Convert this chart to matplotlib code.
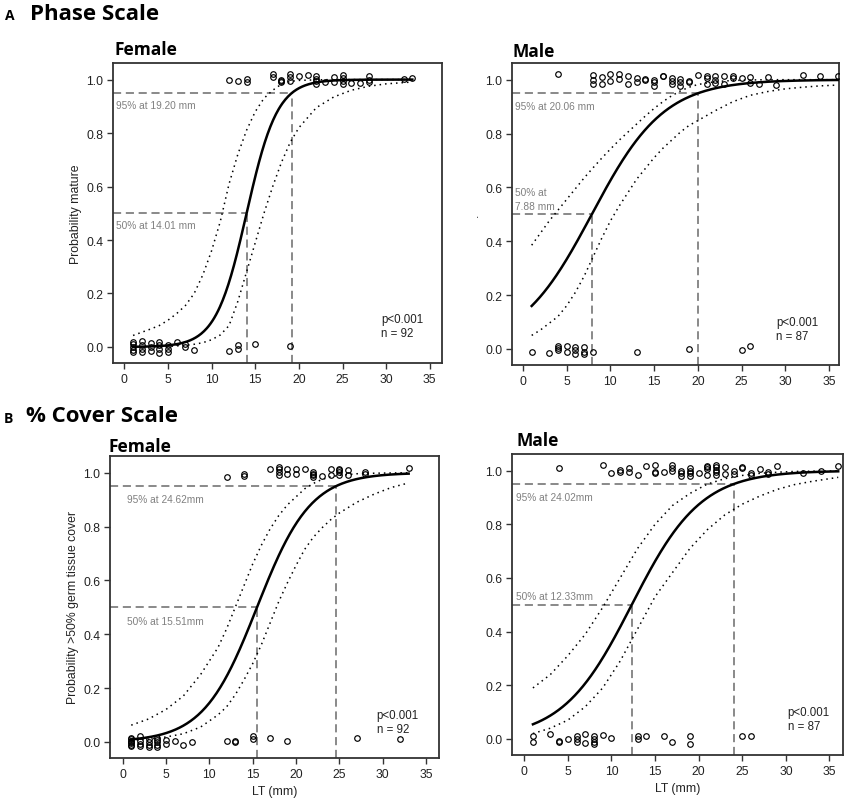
import matplotlib.pyplot as plt
import numpy as np

plt.rcParams['font.family'] = ['Liberation Sans', 'DejaVu Sans']

#
# observed maturity (0 / 1, jittered) read off the figure
#
tl_x = [1,1,1,1,1, 2,2,2,2, 3,3,3, 4,4,4,4, 5,5,5, 6, 7,7, 8, 12, 13,13, 15, 19,
        12, 13, 14,14, 17,17, 18,18,18, 19,19,19, 20, 21, 22,22,22,22, 23, 24,24,
        25,25,25,25, 26, 27, 28,28,28, 32, 33]
tl_y = [0.02,0.01,0.0,-0.01,-0.017, 0.022,0.007,-0.007,-0.017, 0.015,0.0,-0.015,
        0.017,0.007,-0.007,-0.022, 0.007,-0.007,-0.017, 0.017, 0.012,-0.002, -0.01,
        -0.015, 0.007,-0.007, 0.01, 0.003,
        1.0, 0.995, 1.004,0.99, 1.02,1.01, 1.0,0.995,0.99, 1.02,1.01,0.993, 1.015,
        1.018, 1.012,1.002,0.993,0.983, 0.99, 1.01,0.99, 1.017,1.007,0.995,0.985,
        0.988, 0.988, 1.015,1.0,0.99, 1.003, 1.007]

tr_x = [1, 3, 4,4,4, 5,5, 6,6,6, 7,7,7, 8, 13, 19, 25, 26,
        4, 8,8,8, 9,9, 10,10, 11,11, 12,12, 13,13, 14,14, 15,15,15, 16,16,
        17,17,17, 18,18,18, 19,19, 20, 21,21,21, 22,22,22, 23,23, 24,24, 25,
        26,26, 27, 28, 29, 32, 34, 36]
tr_y = [-0.012, -0.016, 0.012,0.002,-0.006, 0.012,-0.01, 0.006,-0.006,-0.019,
        0.006,-0.01,-0.019, -0.012, -0.01, 0.0, -0.004, 0.009,
        1.021, 1.017,1.0,0.984, 1.009,0.984, 1.021,0.996, 1.021,1.002, 1.012,0.984,
        1.005,0.99, 1.002,1.0, 1.0,0.99,0.978, 1.015,1.012, 1.005,0.995,0.984,
        1.002,0.99,0.978, 0.996,0.99, 1.017, 1.015,1.005,0.984, 1.015,1.0,0.988,
        1.015,0.984, 1.012,1.007, 1.005, 1.009,0.988, 0.984, 1.009, 0.98, 1.017,
        1.015, 1.015]

bl_x = [1,1,1,1,1,1,1, 2,2,2,2, 3,3,3,3, 4,4,4,4,4, 5,5, 6, 7, 8, 12, 13,13,
        15,15, 17, 19, 27, 32,
        12, 14,14, 17, 18,18,18,18, 19,19, 20,20, 21, 22,22,22,22, 23, 24,24,
        25,25,25,25, 26,26, 28,28, 33]
bl_y = [0.015,0.01,0.005,0.0,-0.005,-0.01,-0.015, 0.02,0.004,-0.009,-0.015,
        0.012,0.0,-0.012,-0.02, 0.016,0.007,-0.002,-0.012,-0.019, 0.007,-0.009,
        0.004, -0.012, -0.002, 0.002, 0.002,-0.002, 0.02,0.01, 0.016, 0.002,
        0.016, 0.012,
        0.984, 0.996,0.986, 1.015, 1.021,1.012,1.002,0.99, 1.015,0.996,
        1.015,0.996, 1.015, 1.002,0.996,0.99,0.984, 0.988, 1.012,0.992,
        1.015,1.009,1.002,0.99, 1.009,0.99, 1.002,0.996, 1.017]

br_x = [1,1, 3, 4,4, 5, 6,6,6, 7,7, 8,8,8,8, 9, 10, 13,13, 14, 16, 17, 19,19,
        25, 26,
        4, 9, 10, 11,11, 12,12, 13, 14, 15,15,15, 16, 17,17,17, 18,18,18,
        19,19,19,19, 20, 21,21,21,21, 22,22,22,22,22, 23,23, 24,24, 25,25,
        26,26, 27, 28,28, 29, 32, 34, 36]
br_y = [0.01,-0.01, 0.019, -0.006,-0.012, -0.002, 0.012,0.0,-0.012, 0.019,-0.016,
        0.012,0.0,-0.01,-0.019, 0.016, 0.004, 0.012,0.0, 0.01, 0.012, -0.01,
        0.012,-0.019, 0.012, 0.012,
        1.009, 1.021, 0.991, 1.002,0.996, 1.009,0.996, 0.984, 1.016,
        1.021,0.996,0.991, 0.996, 1.021,1.009,1.0, 1.0,0.991,0.981,
        1.009,1.0,0.991,0.981, 0.991, 1.019,1.012,1.006,0.984,
        1.021,1.012,1.004,0.996,0.984, 1.012,0.988, 1.0,0.988, 1.012,1.009,
        0.991,0.984, 1.006, 0.996,0.988, 1.016, 0.991, 1.0, 1.016]

#
# confidence bands (dotted)
#
tl_bx = [1,2,3,4,5,6,7,8,9,10,11,12,13,14,15,16,17,18,19,20,22,24,26,28,30,33]
tl_up = [0.043,0.055,0.067,0.08,0.1,0.125,0.155,0.2,0.27,0.36,0.47,0.61,0.72,
         0.81,0.88,0.93,0.96,0.983,0.993,0.997,0.999,1.0,1.0,1.0,1.0,1.0]
tl_lo = [0.0005,0.0008,0.001,0.0015,0.002,0.004,0.006,0.01,0.016,0.027,0.045,
         0.08,0.17,0.28,0.39,0.5,0.6,0.69,0.765,0.82,0.895,0.935,0.96,0.975,
         0.984,0.991]

tr_bx = [1,2,3,4,5,6,7,8,9,10,11,12,13,14,15,16,17,18,19,20,22,24,26,28,30,32,34,36]
tr_up = [0.385,0.43,0.475,0.515,0.555,0.595,0.635,0.672,0.708,0.742,0.775,0.805,
         0.835,0.865,0.893,0.918,0.94,0.958,0.972,0.982,0.993,0.997,0.999,1.0,
         1.0,1.0,1.0,1.0]
tr_lo = [0.05,0.07,0.095,0.12,0.16,0.21,0.27,0.34,0.41,0.475,0.53,0.58,0.63,0.67,
         0.71,0.745,0.775,0.805,0.83,0.848,0.885,0.918,0.942,0.956,0.966,0.972,
         0.977,0.98]

bl_bx = [1,3,5,7,9,11,12,13,14,15,16,17,18,19,20,21,22,23,24,25,27,29,31,33]
bl_up = [0.062,0.085,0.12,0.17,0.25,0.35,0.42,0.5,0.58,0.66,0.73,0.79,0.84,0.88,
         0.91,0.94,0.96,0.975,0.985,0.99,0.996,0.998,0.999,1.0]
bl_lo = [0.005,0.01,0.018,0.03,0.055,0.1,0.13,0.175,0.23,0.29,0.36,0.44,0.52,
         0.59,0.655,0.715,0.76,0.795,0.825,0.85,0.89,0.92,0.945,0.962]

br_bx = [1,3,5,7,9,11,13,15,17,19,21,23,25,27,29,31,33,36]
br_up = [0.19,0.24,0.31,0.39,0.49,0.6,0.71,0.8,0.87,0.915,0.95,0.97,0.982,0.99,
         0.994,0.997,0.998,0.999]
br_lo = [0.02,0.04,0.07,0.12,0.19,0.29,0.41,0.53,0.62,0.71,0.78,0.835,0.875,
         0.905,0.93,0.948,0.96,0.975]

# size at 50% / 95% maturity printed on the panels
l50 = [14.01, 7.88, 15.51, 12.33]
l95 = [19.20, 20.06, 24.62, 24.02]
n_obs = [92, 87, 92, 87]
lab50 = ['50% at 14.01 mm', '50% at\n7.88 mm', '50% at 15.51mm', '50% at 12.33mm']
lab95 = ['95% at 19.20 mm', '95% at 20.06 mm', '95% at 24.62mm', '95% at 24.02mm']

GRAY = '#808080'


def draw_panel(ax, px, py, bx, up, lo, L50, L95, n, t50, t95, xlim, x50, y50, x95, y95, xp, yp):
    ax.plot(px, py, 'o', ms=4, mfc='none', mec='black', mew=0.85, zorder=3)
    # fitted logistic from the printed L50 / L95
    xf = np.linspace(1, max(bx), 300)
    b = np.log(19) / (L95 - L50)
    ax.plot(xf, 1 / (1 + np.exp(-b * (xf - L50))), color='black', lw=1.8, zorder=4)
    ax.plot(bx, up, color='black', lw=1.1, ls=(0, (1, 2.6)), zorder=4)
    ax.plot(bx, lo, color='black', lw=1.1, ls=(0, (1, 2.6)), zorder=4)
    dash = (0, (4.5, 2.6))
    ax.plot([xlim[0], L95], [0.95, 0.95], color=GRAY, lw=1.3, ls=dash, zorder=2)
    ax.plot([L95, L95], [-0.06, 0.95], color=GRAY, lw=1.3, ls=dash, zorder=2)
    ax.plot([xlim[0], L50], [0.5, 0.5], color=GRAY, lw=1.3, ls=dash, zorder=2)
    ax.plot([L50, L50], [-0.06, 0.5], color=GRAY, lw=1.3, ls=dash, zorder=2)
    ax.text(x95, y95, t95, color=GRAY, fontsize=7.3, va='center', ha='left')
    ax.text(x50, y50, t50, color=GRAY, fontsize=7.3, va='center', ha='left',
            linespacing=1.5)
    ax.text(xp, yp, 'p<0.001\nn = %d' % n, color='#222222', fontsize=8.3,
            va='center', ha='left', linespacing=1.25)
    ax.set_xlim(xlim)
    ax.set_ylim(-0.06, 1.062)
    ax.set_xticks([0, 5, 10, 15, 20, 25, 30, 35])
    ax.set_yticks([0.0, 0.2, 0.4, 0.6, 0.8, 1.0])
    ax.set_yticklabels(['0.0', '0.2', '0.4', '0.6', '0.8', '1.0'])
    ax.tick_params(direction='out', length=4.5, width=1, colors='#333333',
                   labelsize=8.7, labelcolor='#222222', pad=2.5)
    for s in ax.spines.values():
        s.set_linewidth(1.3)
        s.set_color('#333333')


fig = plt.figure(figsize=(8.49, 8.03), dpi=100)
W, H = 849.0, 803.0


def box(l, t, r, b):
    return [l / W, 1 - b / H, (r - l) / W, (b - t) / H]


ax1 = fig.add_axes(box(113, 64, 442, 364))
ax2 = fig.add_axes(box(512, 64, 839, 366))
ax3 = fig.add_axes(box(110, 457, 439, 759))
ax4 = fig.add_axes(box(512, 455, 843, 756))

draw_panel(ax1, tl_x, tl_y, tl_bx, tl_up, tl_lo, l50[0], l95[0], n_obs[0], lab50[0], lab95[0],
           (-1.3, 36.4), -0.95, 0.455, -0.95, 0.904, 29.4, 0.078)
draw_panel(ax2, tr_x, tr_y, tr_bx, tr_up, tr_lo, l50[1], l95[1], n_obs[1], lab50[1], lab95[1],
           (-1.25, 36.15), -0.95, 0.557, -0.95, 0.903, 29.0, 0.075)
draw_panel(ax3, bl_x, bl_y, bl_bx, bl_up, bl_lo, l50[2], l95[2], n_obs[2], lab50[2], lab95[2],
           (-1.45, 36.5), 0.5, 0.45, 0.5, 0.901, 29.3, 0.075)
draw_panel(ax4, br_x, br_y, br_bx, br_up, br_lo, l50[3], l95[3], n_obs[3], lab50[3], lab95[3],
           (-1.4, 36.55), -0.95, 0.534, -0.95, 0.90, 30.2, 0.075)

ax1.set_ylabel('Probability mature', fontsize=8.8, color='#222222', labelpad=3)
ax2.set_ylabel('.', fontsize=8.8, color='#222222', labelpad=3)
ax3.set_ylabel('Probability >50% germ tissue cover', fontsize=8.8, color='#222222', labelpad=3)
ax3.set_xlabel('LT (mm)', fontsize=8.8, color='#222222', labelpad=4)
ax4.set_xlabel('LT (mm)', fontsize=8.8, color='#222222', labelpad=4)

# section headings and panel titles
hfont = ['Open Sans', 'DejaVu Sans']
fig.text(5 / W, 1 - 16 / H, 'A', fontsize=10, fontweight='bold', family=hfont, va='center')
fig.text(30 / W, 1 - 15 / H, 'Phase Scale', fontsize=16, fontweight='bold', family=hfont, va='center')
fig.text(4 / W, 1 - 419 / H, 'B', fontsize=10, fontweight='bold', family=hfont, va='center')
fig.text(26 / W, 1 - 417 / H, '% Cover Scale', fontsize=16, fontweight='bold', family=hfont, va='center')
fig.text(114 / W, 1 - 50 / H, 'Female', fontsize=12.5, fontweight='bold', family=hfont, va='center')
fig.text(512 / W, 1 - 52 / H, 'Male', fontsize=12.5, fontweight='bold', family=hfont, va='center')
fig.text(109 / W, 1 - 447 / H, 'Female', fontsize=12.5, fontweight='bold', family=hfont, va='center')
fig.text(516 / W, 1 - 441 / H, 'Male', fontsize=12.5, fontweight='bold', family=hfont, va='center')

plt.savefig('out.png', dpi=100)
